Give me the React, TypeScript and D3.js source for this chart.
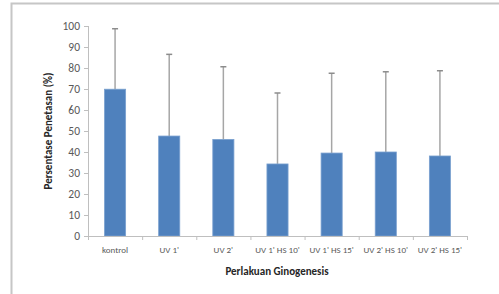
import React from "react";
import * as d3 from "d3";

const categories = ["kontrol", "UV 1'", "UV 2'", "UV 1' HS 10'", "UV 1' HS 15'", "UV 2' HS 10'", "UV 2' HS 15'"];
const means = [69.9, 47.6, 46.0, 34.3, 39.5, 40.0, 38.1];
const upper = [98.7, 86.5, 80.6, 68.1, 77.5, 78.2, 78.7];
const yTicks = [0, 10, 20, 30, 40, 50, 60, 70, 80, 90, 100];

const W = 499, H = 294;
const left = 88, right = 467, top = 26, bottom = 236;
const font = "Carlito, 'Liberation Sans Narrow', 'Open Sans', sans-serif";

export default function App() {
  const x = d3.scaleBand<string>().domain(categories).range([left, right]).paddingInner(0.61).paddingOuter(0.305);
  const xb = d3.scaleBand<string>().domain(categories).range([left, right]);
  const y = d3.scaleLinear().domain([0, 100]).range([bottom, top]);
  return (
    <svg width={W} height={H} style={{ position: "absolute", left: 0, top: 0 }}>
      <rect x={0} y={0} width={W} height={H} fill="#fff" />
      <path d={`M11.5,${H} V3.5 H${W}`} fill="none" stroke="#c6c6c6" strokeWidth={2} />
      {/* y axis */}
      <line x1={left + 0.5} x2={left + 0.5} y1={top} y2={bottom} stroke="#bfbfbf" />
      {yTicks.map((t) => (
        <g key={t}>
          <line x1={left - 4} x2={left} y1={Math.round(y(t)) + 0.5} y2={Math.round(y(t)) + 0.5} stroke="#bfbfbf" />
          <text x={left - 8} y={y(t)} dy="0.35em" textAnchor="end" fontSize={11.5} fill="#595959" fontFamily={font}>{t}</text>
        </g>
      ))}
      {/* bars */}
      {categories.map((c, i) => (
        <g key={c}>
          <line x1={x(c)! + x.bandwidth() / 2} x2={x(c)! + x.bandwidth() / 2} y1={y(means[i])} y2={y(upper[i])} stroke="#a6a6a6" strokeWidth={1.5} />
          <line x1={x(c)! + x.bandwidth() / 2 - 3} x2={x(c)! + x.bandwidth() / 2 + 3} y1={y(upper[i])} y2={y(upper[i])} stroke="#8c8c8c" strokeWidth={1.5} />
          <rect x={x(c)} y={y(means[i])} width={x.bandwidth()} height={bottom - y(means[i])} fill="#4f81bd" stroke="#7aa0cf" strokeWidth={0.8} />
          <text x={xb(c)! + xb.bandwidth() / 2} y={250} textAnchor="middle" fontSize={9} fill="#595959" fontFamily={font} dy="0.35em">{c}</text>
        </g>
      ))}
      {/* x axis */}
      <line x1={left} x2={right} y1={bottom + 0.5} y2={bottom + 0.5} stroke="#bfbfbf" />
      {categories.concat([""]).map((_, i) => (
        <line key={i} x1={left + xb.step() * i + 0.5} x2={left + xb.step() * i + 0.5} y1={bottom} y2={bottom + 4} stroke="#bfbfbf" />
      ))}
      <text x={277} y={271} textAnchor="middle" fontSize={11} fontWeight="bold" fill="#262626" fontFamily={font} dy="0.35em">Perlakuan Ginogenesis</text>
      <text transform={`translate(48,131) rotate(-90)`} textAnchor="middle" fontSize={11} fontWeight="bold" fill="#262626" fontFamily={font} dy="0.35em">Persentase Penetasan (%)</text>
    </svg>
  );
}
